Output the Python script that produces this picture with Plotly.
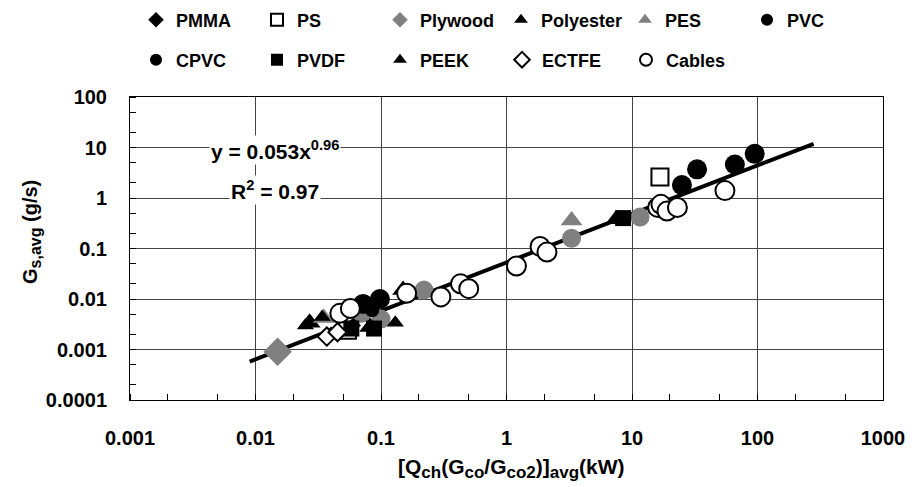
import plotly.graph_objects as go

# ---- data (x in kW, y in g/s) ----
pmma_x = [0.04, 0.06]
pmma_y = [0.0020, 0.0030]
ps_x = [0.054, 16.7]
ps_y = [0.0024, 2.6]
plywood_x = [0.015]
plywood_y = [0.0009]
plywood_c_x = [0.07, 0.10, 0.22, 3.3, 11.6]
plywood_c_y = [0.0052, 0.0040, 0.015, 0.16, 0.42]
polyester_x = [0.027, 0.082, 0.15, 7.5]
polyester_y = [0.0034, 0.0028, 0.015, 0.38]
pes_x = [0.035, 3.3]
pes_y = [0.0042, 0.36]
pvc_x = [0.072, 0.098, 25, 33, 66, 95]
pvc_y = [0.008, 0.010, 1.8, 3.7, 4.6, 7.5]
cpvc_x = [0.085]
cpvc_y = [0.006]
pvdf_x = [0.058, 0.088, 8.5]
pvdf_y = [0.0026, 0.0026, 0.40]
peek_x = [0.025, 0.034, 0.13, 0.16]
peek_y = [0.0030, 0.0044, 0.0034, 0.014]
ectfe_x = [0.037, 0.045]
ectfe_y = [0.0018, 0.0022]
cables_x = [0.047, 0.057, 0.16, 0.30, 0.43, 0.50, 1.2, 1.85, 2.1, 16, 17, 19, 23, 55]
cables_y = [0.0052, 0.0065, 0.013, 0.011, 0.020, 0.016, 0.045, 0.11, 0.085, 0.65, 0.75, 0.55, 0.65, 1.4]

fit_a = 0.053
fit_b = 0.96
fit_x = [0.009, 280]
fit_y = [fit_a * v ** fit_b for v in fit_x]

x_ticks = [0.001, 0.01, 0.1, 1, 10, 100, 1000]
x_ticktext = ["0.001", "0.01", "0.1", "1", "10", "100", "1000"]
y_ticks = [0.0001, 0.001, 0.01, 0.1, 1, 10, 100]
y_ticktext = ["0.0001", "0.001", "0.01", "0.1", "1", "10", "100"]

GRAY = "#808080"
FONT = "Liberation Sans, Arial, sans-serif"
OFF = 8              # page body margin offset
W, H = 917 - OFF, 487 - OFF
fig = go.Figure()

fig.add_trace(go.Scatter(x=fit_x, y=fit_y, mode="lines", showlegend=False,
                         line=dict(color="black", width=4)))

legend_layout = {}

def add(name, xs, ys, symbol, color, size, line_color=None, slot=None, show=True):
    kw = {}
    if slot is not None:
        lid, tx, ty = slot
        kw["legend"] = lid
        legend_layout[lid] = dict(
            x=(tx - 38 - OFF) / W, y=1 - (ty - OFF) / H, xref="container", yref="container",
            xanchor="left", yanchor="middle", orientation="v",
            bgcolor="rgba(0,0,0,0)", itemsizing="constant",
            font=dict(family=FONT, size=18, color="black", weight="bold"))
    fig.add_trace(go.Scatter(
        x=xs, y=ys, mode="markers", name=name, showlegend=show,
        marker=dict(symbol=symbol, color=color, size=size,
                    line=dict(color=line_color or color, width=2 if line_color else 0)),
        **kw))

add("Plywood", plywood_c_x, plywood_c_y, "circle", GRAY, 19, show=False)
add("PMMA", pmma_x, pmma_y, "diamond", "black", 12, slot=("legend", 174, 20))
add("PS", ps_x, ps_y, "square", "white", 17, "black", slot=("legend2", 295, 20))
add("Plywood", plywood_x, plywood_y, "diamond", GRAY, 22, slot=("legend3", 418, 20))
add("Polyester", polyester_x, polyester_y, "triangle-up", "black", 19, slot=("legend4", 539, 20))
add("PES", pes_x, pes_y, "triangle-up", GRAY, 19, slot=("legend5", 663, 20))
add("PVC", pvc_x, pvc_y, "circle", "black", 20, slot=("legend6", 785, 20))
add("CPVC", cpvc_x, cpvc_y, "circle", "black", 14, slot=("legend7", 174, 60))
add("PVDF", pvdf_x, pvdf_y, "square", "black", 16, slot=("legend8", 295, 60))
add("PEEK", peek_x, peek_y, "triangle-up", "black", 15, slot=("legend9", 418, 60))
add("ECTFE", ectfe_x, ectfe_y, "diamond", "white", 14, "black", slot=("legend10", 540, 60))
add("Cables", cables_x, cables_y, "circle", "white", 19, "black", slot=("legend11", 664, 60))

PL, PT, PW, PH = 130 - OFF, 97 - OFF, 753, 303
fig.update_layout(
    width=W, height=H,
    margin=dict(l=PL, r=W - PL - PW, t=PT, b=H - PT - PH, autoexpand=False),
    paper_bgcolor="white", plot_bgcolor="white",
    font=dict(family=FONT, color="black"),
    xaxis=dict(type="log", range=[-3, 3], tickvals=x_ticks, ticktext=x_ticktext,
               tickfont=dict(size=20, family=FONT, weight="bold"), showline=True,
               linecolor="black", linewidth=1, mirror=True, showgrid=True,
               gridcolor="#444", gridwidth=1, ticks="", ticklabelstandoff=20,
               zeroline=False, automargin=False,
               minor=dict(ticks="inside", ticklen=6, tickcolor="black", showgrid=False)),
    yaxis=dict(type="log", range=[-4, 2], tickvals=y_ticks, ticktext=y_ticktext,
               tickfont=dict(size=20, family=FONT, weight="bold"), showline=True,
               linecolor="black", linewidth=1, mirror=True, showgrid=True,
               gridcolor="#444", gridwidth=1, ticks="", ticklabelstandoff=18,
               zeroline=False, automargin=False,
               minor=dict(ticks="inside", ticklen=6, tickcolor="black", showgrid=False)),
    **legend_layout,
)

def px_x(p):
    return (p - 130) / PW

def px_y(p):
    return (400 - p) / PH

# axis titles
fig.add_annotation(xref="paper", yref="paper", x=px_x(511), y=px_y(468),
                   xanchor="center", yanchor="middle", showarrow=False,
                   text="<b>[Q<sub><span style='font-size:17px'>ch</span></sub>"
                        "(G<sub><span style='font-size:17px'>co</span></sub>/"
                        "G<sub><span style='font-size:17px'>co2</span></sub>)]"
                        "<sub><span style='font-size:17px'>avg</span></sub>(kW)</b>",
                   font=dict(size=21, family=FONT, color="black"))
fig.add_annotation(xref="paper", yref="paper", x=px_x(32), y=px_y(232),
                   xanchor="center", yanchor="middle", showarrow=False, textangle=-90,
                   text="<b>G<sub><span style='font-size:16px'>s,avg</span></sub> (g/s)</b>",
                   font=dict(size=20, family=FONT, color="black"))

# trend-line equation
fig.add_annotation(xref="paper", yref="paper", x=px_x(275), y=px_y(150),
                   xanchor="center", yanchor="middle",
                   text="<b>y = 0.053x<sup>0.96</sup></b>", showarrow=False,
                   font=dict(size=21, family=FONT, color="black"), bgcolor="white")
fig.add_annotation(xref="paper", yref="paper", x=px_x(275), y=px_y(190),
                   xanchor="center", yanchor="middle",
                   text="<b>R<sup>2</sup> = 0.97</b>", showarrow=False,
                   font=dict(size=21, family=FONT, color="black"), bgcolor="white")

fig.write_html("out.html")
